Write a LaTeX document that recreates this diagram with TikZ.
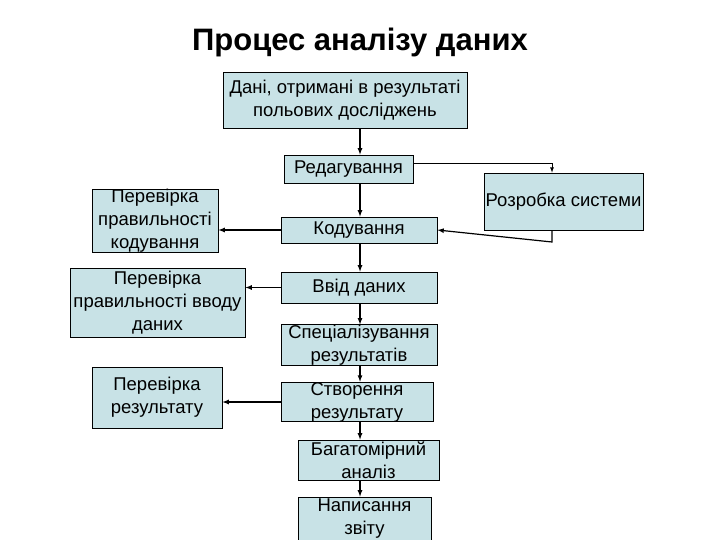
\documentclass[tikz,border=0pt]{standalone}
\usepackage{fontspec}
\setmainfont{Liberation Sans}
\begin{document}
\begin{tikzpicture}[x=1pt,y=-1pt,
  bx/.style={draw=black,fill={rgb,255:red,200;green,226;blue,230},line width=0.8pt,align=center,inner sep=0pt,font=\fontsize{18.5}{23}\selectfont},
  ar/.style={-latex,line width=1.2pt}]
\useasboundingbox (0,0) rectangle (720,540);
\node[font=\bfseries\fontsize{31}{34}\selectfont] (t) at (360,42) {Процес аналізу даних};
\newcommand\bb[6]{\node[bx,minimum width=#4-#2,minimum height=#5-#3] (#1) at ({(#2+#4)/2},{(#3+#5)/2}) {#6};}
\bb{d}{223}{72}{467}{128}{Дані, отримані в результаті\\ польових досліджень}
\bb{r}{284}{155}{413}{183}{Редагування}
\bb{k}{281}{217}{437}{243}{Кодування}
\bb{v}{281}{272}{437}{303}{Ввід даних}
\bb{s}{281}{325}{437}{365}{Спеціалізування\\результатів}
\bb{c}{281}{383}{433}{421}{Створення\\результату}
\bb{b}{298}{440}{439}{480}{Багатомірний\\аналіз}
\bb{n}{298}{497}{431}{540}{Написання\\звіту}
\bb{pk}{92}{190}{218}{252}{Перевірка\\правильності\\кодування}
\bb{pv}{70}{268}{245}{337}{Перевірка\\правильності вводу\\даних}
\bb{pr}{92}{367}{222}{428}{Перевірка\\результату}
\bb{rs}{484}{173}{643}{230}{Розробка системи}
\foreach \a/\b in {d/r,r/k,k/v,v/s,s/c,c/b,b/n}
  \draw[ar] (\a.south -| 360,0) -- (\b.north -| 360,0);
\draw[ar] (k.west) -- (pk.east |- k.west);
\draw[ar] (v.west) -- (pv.east |- v.west);
\draw[ar] (c.west) -- (pr.east |- c.west);
\draw[ar,line width=0.8pt] (r.east |- 0,163) -- (552,163) -- (rs.north -| 552,0);
\draw[ar] (rs.south -| 552,0) -- (552,242) -- (k.east |- 0,230);
\end{tikzpicture}
\end{document}
